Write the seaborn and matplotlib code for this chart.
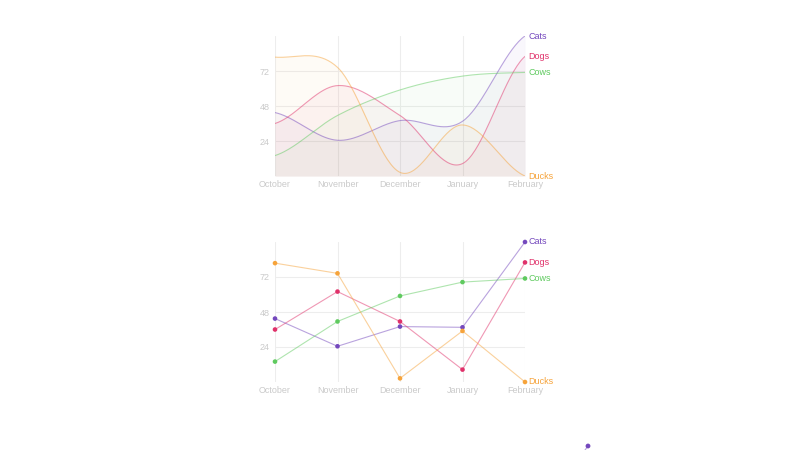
import numpy as np
import pandas as pd
import matplotlib
matplotlib.use("Agg")
import matplotlib.pyplot as plt
import seaborn as sns

months = ["October", "November", "December", "January", "February"]
series_names = ["Cats", "Dogs", "Cows", "Ducks"]
cats = [43.5, 24.5, 38, 37.5, 96]
dogs = [36, 62, 41.5, 8.5, 82]
cows = [14, 41.5, 59, 68.5, 71]
ducks = [81.5, 74.5, 2.5, 35, 0]
yticks = [24, 48, 72]

colors = {"Cats": "#7448bd", "Dogs": "#e0316a", "Cows": "#5fca5f", "Ducks": "#f6a33a"}
values = {"Cats": cats, "Dogs": dogs, "Cows": cows, "Ducks": ducks}

sns.set_theme(style="white")
plt.rcParams["font.family"] = ["Liberation Sans", "DejaVu Sans"]

df = pd.DataFrame({
    "month": np.tile(np.arange(len(months)), len(series_names)),
    "value": np.concatenate([values[s] for s in series_names]),
    "series": np.repeat(series_names, len(months)),
})


def catmull_rom(y, n=40):
    y = np.asarray(y, float)
    p = np.concatenate([[y[0]], y, [y[-1]]])
    xs, ys = [], []
    for i in range(len(y) - 1):
        p0, p1, p2, p3 = p[i], p[i + 1], p[i + 2], p[i + 3]
        t = np.linspace(0, 1, n, endpoint=(i == len(y) - 2))
        yy = 0.5 * ((2 * p1) + (-p0 + p2) * t + (2 * p0 - 5 * p1 + 4 * p2 - p3) * t ** 2
                    + (-p0 + 3 * p1 - 3 * p2 + p3) * t ** 3)
        xs.append(i + t)
        ys.append(yy)
    return np.concatenate(xs), np.concatenate(ys)


smooth_rows = []
for s in series_names:
    xx, yy = catmull_rom(values[s])
    smooth_rows.append(pd.DataFrame({"month": xx, "value": yy, "series": s}))
sdf = pd.concat(smooth_rows, ignore_index=True)

fig = plt.figure(figsize=(8, 4.5), dpi=100)
ax1 = fig.add_axes([275 / 800, 1 - 176 / 450, 250 / 800, 140 / 450])
ax2 = fig.add_axes([275 / 800, 1 - 382 / 450, 250 / 800, 140 / 450])
ax3 = fig.add_axes([212 / 800, 1 - 656 / 450, 376 / 800, 210 / 450])


def style_axes(ax, labels=True, grid=True):
    ax.set_xlim(0, len(months) - 1)
    ax.set_ylim(0, 96)
    if labels:
        ax.set_xticks(range(len(months)))
        ax.set_yticks(yticks)
        ax.set_xticklabels(months)
    else:
        ax.set_xticks([])
        ax.set_yticks([])
    for sp in ax.spines.values():
        sp.set_visible(False)
    ax.grid(grid, color="#ededed", linewidth=0.8)
    ax.set_axisbelow(True)
    ax.tick_params(axis="both", length=0, labelsize=6.5, colors="#cacaca", pad=4)
    ax.tick_params(axis="x", pad=3)
    ax.set_xlabel("")
    ax.set_ylabel("")
    leg = ax.get_legend()
    if leg is not None:
        leg.remove()


# Top: smooth area chart
for s in series_names:
    sub = sdf[sdf.series == s]
    ax1.fill_between(sub.month, sub.value, 0, color=colors[s], alpha=0.045, linewidth=0)
sns.lineplot(data=sdf, x="month", y="value", hue="series", palette=colors,
             hue_order=series_names, ax=ax1, linewidth=0.8, alpha=0.5, sort=False,
             estimator=None)
style_axes(ax1)

# Bottom: straight lines with markers
sns.lineplot(data=df, x="month", y="value", hue="series", palette=colors,
             hue_order=series_names, ax=ax2, linewidth=0.8, alpha=0.5,
             estimator=None)
sns.scatterplot(data=df, x="month", y="value", hue="series", palette=colors,
                hue_order=series_names, ax=ax2, s=11, linewidth=0, zorder=5,
                clip_on=False)
style_axes(ax2)

# Third (mostly off-canvas) chart
sns.lineplot(data=df, x="month", y="value", hue="series", palette=colors,
             hue_order=series_names, ax=ax3, linewidth=0.8, alpha=0.5,
             estimator=None)
sns.scatterplot(data=df, x="month", y="value", hue="series", palette=colors,
                hue_order=series_names, ax=ax3, s=12, linewidth=0, zorder=5,
                clip_on=False)
style_axes(ax3, labels=False, grid=False)

for ax in (ax1, ax2):
    for s in series_names:
        ax.annotate(s, xy=(len(months) - 1, values[s][-1]), xytext=(2.5, 0),
                    textcoords="offset points", va="center", ha="left",
                    fontsize=6.5, color=colors[s], annotation_clip=False)

fig.savefig("out.png", dpi=100, facecolor="white")
